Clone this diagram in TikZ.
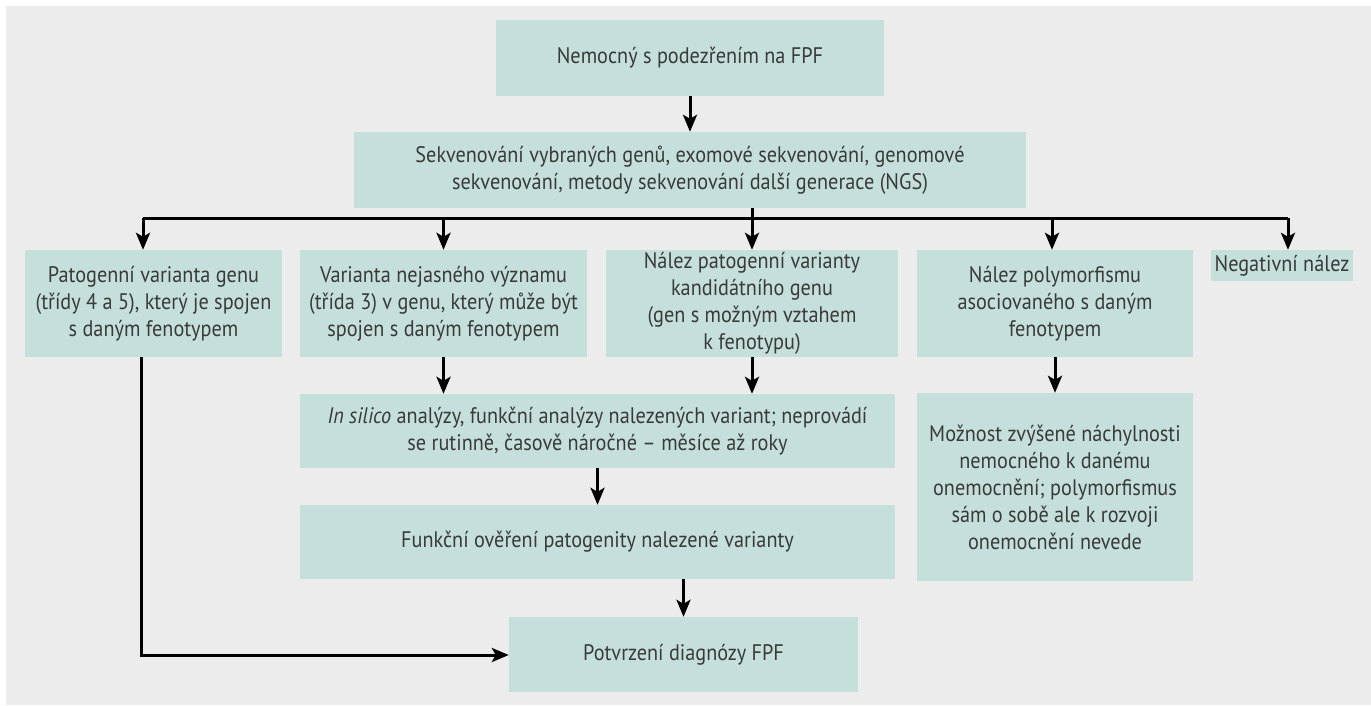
\documentclass[tikz,border=0pt]{standalone}
\usepackage{fontspec}
\setmainfont{PT Sans}[FakeStretch=0.9]
\usetikzlibrary{arrows.meta}
\definecolor{bgc}{HTML}{ECECEC}
\definecolor{boxc}{HTML}{C5E0DB}
\definecolor{txt}{HTML}{3A3A3A}
\tikzset{
  box/.style={fill=boxc, inner sep=0pt, align=center, text=txt,
    font=\fontsize{22.5}{27}\selectfont},
  conn/.style={line width=3pt, black},
  arr/.style={conn, -{Stealth[length=17pt,width=14pt,inset=4pt]}},
}
\begin{document}
\begin{tikzpicture}[x=1pt,y=-1pt]
\useasboundingbox (0,0) rectangle (1371,705);
\fill[bgc] (6,6) rectangle (1371,705);

\node[box, minimum width=388pt, minimum height=76pt] (top) at (690,58) {Nemocný s podezřením na FPF};
\node[box, minimum width=672pt, minimum height=76pt] (seq) at (690,170) {Sekvenování vybraných genů, exomové sekvenování, genomové\\sekvenování, metody sekvenování další generace (NGS)};

\node[box, minimum width=257pt, minimum height=107pt] (b1) at (153.5,303.5) {Patogenní varianta genu\\(třídy 4 a 5), který je spojen\\s daným fenotypem};
\node[box, minimum width=287pt, minimum height=107pt] (b2) at (443.5,303.5) {Varianta nejasného významu\\(třída 3) v genu, který může být\\spojen s daným fenotypem};
\node[box, minimum width=292pt, minimum height=107pt] (b3) at (752,303.5) {Nález patogenní varianty\\kandidátního genu\\(gen s možným vztahem\\k fenotypu)};
\node[box, minimum width=276pt, minimum height=107pt] (b4) at (1055,303.5) {Nález polymorfismu\\asociovaného s daným\\fenotypem};
\node[box, minimum width=142pt, minimum height=31pt] (b5) at (1282,265.5) {Negativní nález};

\node[box, minimum width=595pt, minimum height=74pt] (sil) at (597.5,431) {\textit{In silico} analýzy, funkční analýzy nalezených variant; neprovádí\\se rutinně, časově náročné – měsíce až roky};
\node[box, minimum width=276pt, minimum height=188pt] (moz) at (1055,487) {Možnost zvýšené náchylnosti\\nemocného k danému\\onemocnění; polymorfismus\\sám o sobě ale k rozvoji\\onemocnění nevede};
\node[box, minimum width=595pt, minimum height=74pt] (fun) at (597.5,542) {Funkční ověření patogenity nalezené varianty};
\node[box, minimum width=349pt, minimum height=75pt] (pot) at (683.5,654.5) {Potvrzení diagnózy FPF};

\coordinate (hl) at (143,218);
\coordinate (hr) at (1288,218);
\coordinate (h4) at (1052,218);
\coordinate (c1) at (141,655);

\draw[arr] (top.south) -- (seq.north);
\draw[arr] (seq.south -| b3.north) -- (b3.north);
\draw[conn] (hl) -- (hr);
\draw[arr] (hl) -- (hl |- b1.north);
\draw[arr] (b2.north |- hl) -- (b2.north);
\draw[arr] (h4) -- (h4 |- b4.north);
\draw[arr] (hr) -- (hr |- b5.north);

\draw[arr] (b1.south -| c1) -- (c1) -- (c1 -| pot.west);
\draw[arr] (b2.south) -- (b2.south |- sil.north);
\draw[arr] (b3.south) -- (b3.south |- sil.north);
\draw[arr] (b4.south) -- (moz.north);
\draw[arr] (sil.south) -- (fun.north);
\draw[arr] (fun.south -| pot.north) -- (pot.north);
\end{tikzpicture}
\end{document}
